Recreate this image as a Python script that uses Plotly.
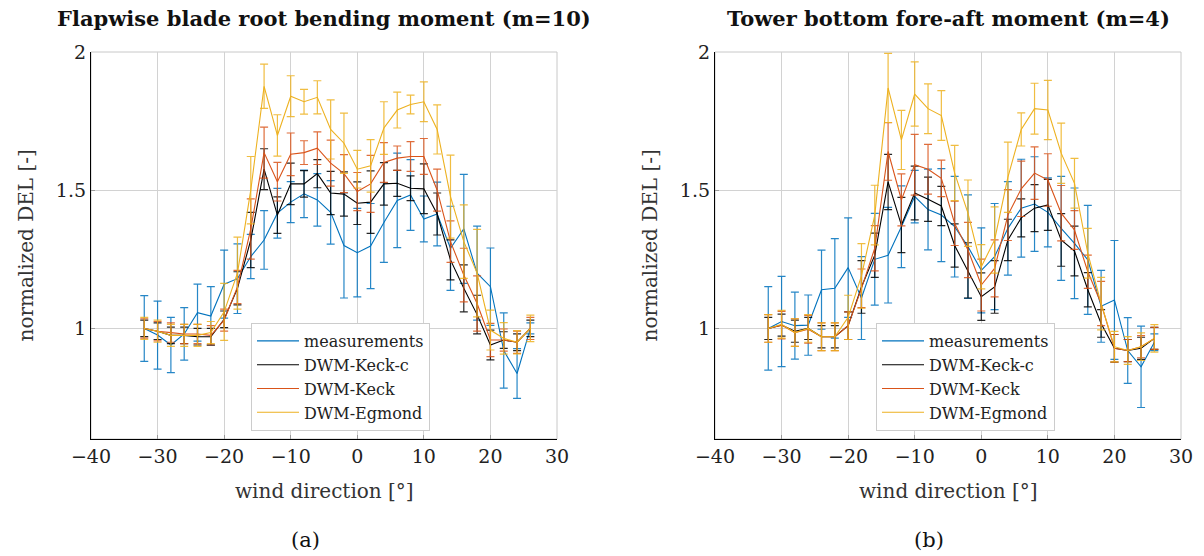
import plotly.graph_objects as go

# wind direction bins [deg]
wind_dir = [-32, -30, -28, -26, -24, -22, -20, -18, -16, -14, -12, -10, -8, -6, -4,
            -2, 0, 2, 4, 6, 8, 10, 12, 14, 16, 18, 20, 22, 24, 26]

# ---- (a) flapwise blade root bending moment, normalized DEL ----
flap_meas = [1.00, 0.976, 0.94, 0.98, 1.057, 1.045, 1.16, 1.18, 1.26, 1.32, 1.417, 1.457,
             1.487, 1.465, 1.42, 1.30, 1.274, 1.298, 1.383, 1.463, 1.483, 1.396, 1.414,
             1.29, 1.36, 1.20, 1.151, 0.92, 0.837, 1.0]
flap_meas_err = [0.119, 0.123, 0.10, 0.095, 0.103, 0.106, 0.123, 0.126, 0.08, 0.106, 0.09,
                 0.074, 0.086, 0.095, 0.115, 0.19, 0.16, 0.154, 0.144, 0.171, 0.128, 0.083,
                 0.115, 0.152, 0.197, 0.17, 0.14, 0.136, 0.09, 0.02]
flap_keck_c = [1.0, 0.99, 0.975, 0.975, 0.97, 0.97, 1.033, 1.145, 1.32, 1.576, 1.41, 1.523,
               1.523, 1.56, 1.49, 1.486, 1.453, 1.457, 1.523, 1.525, 1.507, 1.505, 1.414,
               1.248, 1.145, 1.05, 0.94, 0.958, 0.95, 1.0]
flap_keck_c_err = [0.03, 0.03, 0.03, 0.03, 0.03, 0.03, 0.03, 0.06, 0.1, 0.074, 0.066, 0.075,
                   0.048, 0.051, 0.078, 0.08, 0.077, 0.113, 0.077, 0.047, 0.045, 0.09, 0.076,
                   0.072, 0.085, 0.07, 0.054, 0.03, 0.03, 0.03]
flap_keck = [1.0, 0.99, 0.985, 0.98, 0.98, 0.975, 1.03, 1.15, 1.36, 1.636, 1.531, 1.63,
             1.636, 1.652, 1.598, 1.56, 1.495, 1.523, 1.60, 1.616, 1.622, 1.622, 1.50,
             1.314, 1.193, 1.09, 0.958, 0.958, 0.95, 1.0]
flap_keck_err = [0.035, 0.035, 0.035, 0.035, 0.035, 0.035, 0.04, 0.06, 0.109, 0.092, 0.07,
                 0.077, 0.043, 0.059, 0.083, 0.069, 0.069, 0.103, 0.072, 0.044, 0.054, 0.065,
                 0.076, 0.075, 0.097, 0.1, 0.06, 0.04, 0.04, 0.04]
flap_egmond = [1.0, 0.99, 0.975, 0.975, 0.975, 0.985, 1.06, 1.2, 1.5, 1.876, 1.698, 1.84,
               1.82, 1.836, 1.72, 1.67, 1.576, 1.588, 1.725, 1.79, 1.81, 1.82, 1.72, 1.477,
               1.314, 1.2, 0.994, 0.964, 0.95, 1.0]
flap_egmond_err = [0.04, 0.04, 0.04, 0.04, 0.04, 0.04, 0.103, 0.13, 0.122, 0.08, 0.075, 0.074,
                   0.045, 0.06, 0.107, 0.109, 0.068, 0.095, 0.095, 0.065, 0.034, 0.072, 0.089,
                   0.15, 0.133, 0.158, 0.072, 0.057, 0.042, 0.048]

# ---- (b) tower bottom fore-aft moment, normalized DEL ----
tower_meas = [1.0, 1.025, 1.01, 1.012, 1.14, 1.145, 1.22, 1.11, 1.25, 1.265, 1.368, 1.477,
              1.43, 1.41, 1.368, 1.296, 1.21, 1.26, 1.362, 1.435, 1.45, 1.42, 1.362, 1.308,
              1.248, 1.08, 1.103, 0.92, 0.861, 0.95]
tower_meas_err = [0.151, 0.163, 0.121, 0.109, 0.143, 0.18, 0.18, 0.15, 0.166, 0.173, 0.148,
                  0.095, 0.146, 0.168, 0.182, 0.187, 0.154, 0.192, 0.169, 0.177, 0.171, 0.125,
                  0.188, 0.2, 0.197, 0.13, 0.215, 0.119, 0.147, 0.03]
tower_keck_c = [1.0, 1.012, 0.99, 1.0, 0.97, 0.97, 1.01, 1.15, 1.265, 1.53, 1.374, 1.49,
                1.467, 1.443, 1.30, 1.21, 1.115, 1.15, 1.32, 1.40, 1.435, 1.447, 1.32, 1.28,
                1.14, 1.018, 0.928, 0.92, 0.928, 0.964]
tower_keck_c_err = [0.04, 0.04, 0.04, 0.04, 0.04, 0.04, 0.05, 0.095, 0.08, 0.1, 0.1, 0.097,
                    0.08, 0.071, 0.078, 0.1, 0.086, 0.095, 0.075, 0.069, 0.085, 0.092, 0.095,
                    0.09, 0.062, 0.05, 0.05, 0.04, 0.04, 0.04]
tower_keck = [1.0, 1.012, 0.985, 0.997, 0.97, 0.97, 1.01, 1.145, 1.29, 1.64, 1.465, 1.592,
              1.576, 1.543, 1.38, 1.284, 1.157, 1.217, 1.41, 1.505, 1.562, 1.537, 1.417,
              1.356, 1.205, 1.09, 0.928, 0.92, 0.934, 0.964]
tower_keck_err = [0.05, 0.05, 0.05, 0.05, 0.05, 0.05, 0.05, 0.07, 0.082, 0.104, 0.094, 0.11,
                  0.09, 0.066, 0.08, 0.1, 0.094, 0.103, 0.092, 0.1, 0.095, 0.095, 0.1, 0.07,
                  0.06, 0.08, 0.05, 0.04, 0.04, 0.04]
tower_egmond = [1.0, 1.015, 0.985, 1.0, 0.97, 0.97, 1.04, 1.19, 1.41, 1.87, 1.682, 1.848,
                1.795, 1.77, 1.562, 1.417, 1.223, 1.32, 1.547, 1.72, 1.795, 1.79, 1.634,
                1.525, 1.272, 1.09, 0.934, 0.92, 0.934, 0.964]
tower_egmond_err = [0.05, 0.05, 0.05, 0.05, 0.05, 0.05, 0.08, 0.117, 0.108, 0.125, 0.107,
                    0.116, 0.09, 0.09, 0.1, 0.12, 0.08, 0.12, 0.127, 0.06, 0.092, 0.107,
                    0.109, 0.09, 0.09, 0.095, 0.055, 0.05, 0.05, 0.05]

series_names = ["measurements", "DWM-Keck-c", "DWM-Keck", "DWM-Egmond"]
line_colors = ["#0072BD", "#000000", "#D95319", "#EDB120"]
err_colors = ["rgba(0,114,189,0.85)", "rgba(0,0,0,0.85)",
              "rgba(217,83,25,0.85)", "rgba(237,177,32,0.85)"]

panels = [
    dict(xaxis="x", yaxis="y", legend="legend",
         data=[(flap_meas, flap_meas_err), (flap_keck_c, flap_keck_c_err),
               (flap_keck, flap_keck_err), (flap_egmond, flap_egmond_err)]),
    dict(xaxis="x2", yaxis="y2", legend="legend2",
         data=[(tower_meas, tower_meas_err), (tower_keck_c, tower_keck_c_err),
               (tower_keck, tower_keck_err), (tower_egmond, tower_egmond_err)]),
]

FONT = "DejaVu Serif"
W, H = 1204, 556

fig = go.Figure()
for p in panels:
    for name, lc, ec, (vals, errs) in zip(series_names, line_colors, err_colors, p["data"]):
        fig.add_trace(go.Scatter(
            x=wind_dir, y=vals, name=name, mode="lines",
            line=dict(color=lc, width=1.1),
            error_y=dict(type="data", array=errs, visible=True,
                         color=ec, thickness=1.2, width=4),
            xaxis=p["xaxis"], yaxis=p["yaxis"], legend=p["legend"],
        ))

# plot area geometry in pixels
ax_left = [91, 715]
ax_w = 466
ax_top, ax_bot = 52, 439
y_dom = [(H - ax_bot) / H, (H - ax_top) / H]

def x_dom(i):
    return [ax_left[i] / W, (ax_left[i] + ax_w) / W]

grid_col = "#d2d2d2"
xaxis_common = dict(range=[-40, 30], tickvals=[-40, -30, -20, -10, 0, 10, 20, 30],
                    ticktext=["\u221240", "\u221230", "\u221220", "\u221210", "0", "10", "20", "30"],
                    showgrid=True, gridcolor=grid_col, gridwidth=1, zeroline=False,
                    showline=True, linecolor="black", linewidth=1.3,
                    ticks="inside", ticklen=4, tickcolor="#9a9a9a",
                    tickfont=dict(family=FONT, size=19, color="#222"))
yaxis_common = dict(range=[0.6, 2.0], tickvals=[1, 1.5, 2], ticktext=["1", "1.5", "2"],
                    showgrid=True, gridcolor=grid_col, gridwidth=1, zeroline=False,
                    showline=True, linecolor="black", linewidth=1.3,
                    ticks="inside", ticklen=4, tickcolor="#9a9a9a",
                    tickfont=dict(family=FONT, size=19, color="#222"))

legend_common = dict(bgcolor="white", bordercolor="#cccccc", borderwidth=1,
                     font=dict(family=FONT, size=16, color="#222"),
                     xanchor="left", yanchor="top", tracegroupgap=0,
                     itemwidth=42)

fig.update_layout(
    width=W, height=H, margin=dict(l=0, r=0, t=0, b=0, autoexpand=False),
    paper_bgcolor="white", plot_bgcolor="white",
    xaxis=dict(domain=x_dom(0), anchor="y", **xaxis_common),
    yaxis=dict(domain=y_dom, anchor="x", **yaxis_common),
    xaxis2=dict(domain=x_dom(1), anchor="y2", **xaxis_common),
    yaxis2=dict(domain=y_dom, anchor="x2", **yaxis_common),
    legend=dict(x=251 / W, y=(H - 323) / H, **legend_common),
    legend2=dict(x=876 / W, y=(H - 323) / H, **legend_common),
)

# light frame on the top and right sides of each axes box
for xr, yr in [("x domain", "y domain"), ("x2 domain", "y2 domain")]:
    fig.add_shape(type="rect", xref=xr, yref=yr, x0=0, x1=1, y0=0, y1=1,
                  line=dict(color="#c8c8c8", width=1), layer="below")

titles = ["<b>Flapwise blade root bending moment (m=10)</b>",
          "<b>Tower bottom fore-aft moment (m=4)</b>"]
sub_labels = ["(a)", "(b)"]
for i in range(2):
    cx = (ax_left[i] + ax_w / 2) / W
    fig.add_annotation(text=titles[i], x=cx, y=1 - 18 / H, xref="paper", yref="paper",
                       showarrow=False, xanchor="center", yanchor="middle",
                       font=dict(family=FONT, size=21, color="#111"))
    fig.add_annotation(text="wind direction [°]", x=cx, y=1 - 491 / H,
                       xref="paper", yref="paper", showarrow=False,
                       xanchor="center", yanchor="middle",
                       font=dict(family=FONT, size=20, color="#333"))
    fig.add_annotation(text=sub_labels[i], x=(ax_left[i] + ax_w / 2 - 19) / W, y=1 - 540 / H,
                       xref="paper", yref="paper", showarrow=False,
                       xanchor="center", yanchor="middle",
                       font=dict(family=FONT, size=21, color="#111"))
    fig.add_annotation(text="normalized DEL [-]", x=(ax_left[i] - 66) / W,
                       y=1 - (ax_top + ax_bot) / 2 / H, xref="paper", yref="paper",
                       showarrow=False, textangle=-90, xanchor="center", yanchor="middle",
                       font=dict(family=FONT, size=20, color="#333"))

fig.write_html("out.html")
